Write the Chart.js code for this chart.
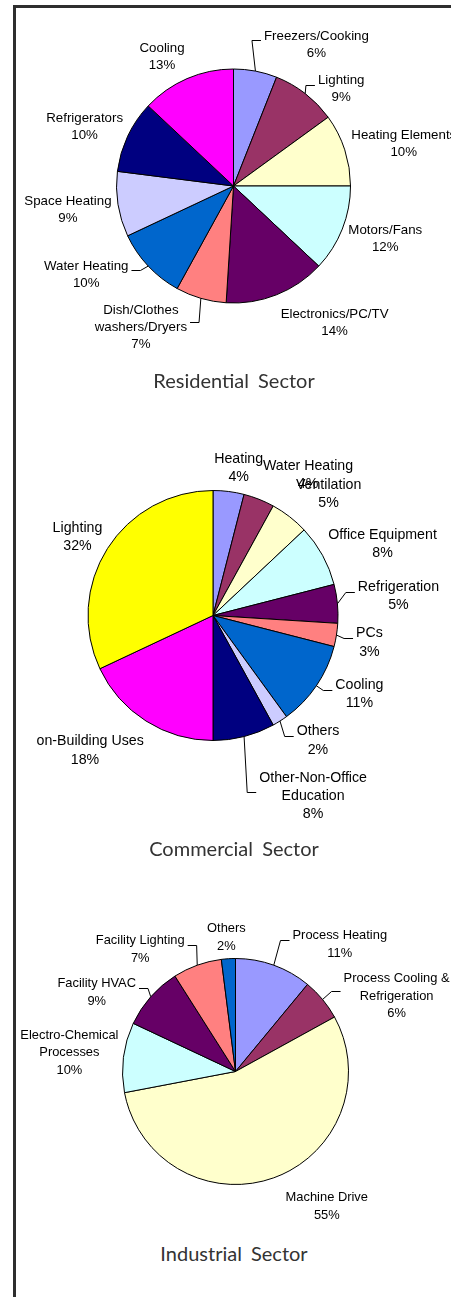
<!DOCTYPE html>
<html>
<head>
<meta charset="utf-8">
<title>Electricity end use by sector</title>
<script src="https://cdn.jsdelivr.net/npm/chart.js@4.4.0/dist/chart.umd.min.js"></script>
<style>
  html, body { margin: 0; padding: 0; background: #fff; }
  body { width: 451px; height: 1297px; position: relative; overflow: hidden; }
  .frame { position: absolute; left: 13px; top: 5px; right: -10px; bottom: -10px; border-left: 3px solid #2e2e2e; border-top: 3px solid #2e2e2e; }
  canvas { position: absolute; }
  .sector { position: absolute; left: 17px; width: 434px; text-align: center; font: 20px Lato, sans-serif; color: #333; word-spacing: 4px; line-height: 24px; }
</style>
</head>
<body>
<div class="frame"></div>
<canvas id="residential" width="434" height="392" style="left:17px;top:8px"></canvas>
<div class="sector" style="top:368px">Residential Sector</div>
<canvas id="commercial" width="415" height="420" style="left:36px;top:420px"></canvas>
<div class="sector" style="top:836px">Commercial Sector</div>
<canvas id="industrial" width="434" height="340" style="left:17px;top:890px"></canvas>
<div class="sector" style="top:1241px">Industrial Sector</div>

<script>
'use strict';

// Residential sector (% of use)
var resCategories = ['Freezers/Cooking', 'Lighting', 'Heating Elements', 'Motors/Fans', 'Electronics/PC/TV',
  'Dish/Clothes\nwashers/Dryers', 'Water Heating', 'Space Heating', 'Refrigerators', 'Cooling'];
var resValues = [6, 9, 10, 12, 14, 7, 10, 9, 10, 13];

// Commercial sector (% of use)
var comCategories = ['Heating', 'Water Heating', 'Ventilation', 'Office Equipment', 'Refrigeration', 'PCs',
  'Cooling', 'Others', 'Other-Non-Office\nEducation', 'Non-Building Uses', 'Lighting'];
var comValues = [4, 4, 5, 8, 5, 3, 11, 2, 8, 18, 32];

// Industrial sector (% of use)
var indCategories = ['Process Heating', 'Process Cooling &\nRefrigeration', 'Machine Drive',
  'Electro-Chemical\nProcesses', 'Facility HVAC', 'Facility Lighting', 'Others'];
var indValues = [11, 6, 55, 10, 9, 7, 2];

// old office palette, slices take colours in order
var palette = ['#9999FF', '#993366', '#FFFFCC', '#CCFFFF', '#660066', '#FF8080',
  '#0066CC', '#CCCCFF', '#000080', '#FF00FF', '#FFFF00'];

// label placement: offset of each label from the middle of its slice's rim
var resLabelShift = [[61, -28], [36, -6], [59, -8], [43, 8], [58, 27], [-60, 27], [-62, 7], [-50, 4], [-43, -11], [-25, -23]];
var resLeaders = [1, 1, 0, 0, 0, 1, 1, 0, 0, 0];
var comLabelShift = [[10, -25], [49, -26], [39, -24], [60, -13], [61, -9], [33, 6], [43, 7], [38, 18], [69, 58], [-61, 28], [-30, -13]];
var comLeaders = [0, 0, 0, 0, 1, 1, 1, 1, 1, 0, 0];
var indLabelShift = [[66, -22], [74, -5], [53, 27], [-54, -6], [-54, -6], [-57, -17], [-2, -23]];
var indLeaders = [1, 1, 0, 0, 1, 1, 0];

// Labels outside the pie, with leader lines where they were pulled away
var sliceLabels = {
  id: 'sliceLabels',
  afterDatasetsDraw: function(chart, args, opts) {
    var ctx = chart.ctx;
    var values = chart.data.datasets[0].data;
    var total = values.reduce(function(a, b) { return a + b; }, 0);
    ctx.save();
    ctx.font = opts.size + 'px "Liberation Sans", Arial, sans-serif';
    ctx.fillStyle = '#000';
    ctx.strokeStyle = '#000';
    ctx.lineWidth = 1;
    ctx.textAlign = 'center';
    ctx.textBaseline = 'middle';
    chart.getDatasetMeta(0).data.forEach(function(arc, i) {
      var p = arc.getProps(['x', 'y', 'startAngle', 'endAngle', 'outerRadius'], true);
      var mid = (p.startAngle + p.endAngle) / 2;
      var px = p.x + Math.cos(mid) * p.outerRadius;
      var py = p.y + Math.sin(mid) * p.outerRadius;
      var lx = px + opts.shift[i][0];
      var ly = py + opts.shift[i][1];
      var lines = chart.data.labels[i].split('\n');
      lines.push(Math.round(values[i] / total * 100) + '%');
      // 'middle' sits the glyphs a little high, nudge them down
      var top = ly + 1.5 - (lines.length - 1) * opts.lineHeight / 2;
      var width = 0;
      lines.forEach(function(t, k) {
        ctx.fillText(t, lx, top + k * opts.lineHeight);
        width = Math.max(width, ctx.measureText(t).width);
      });
      if (opts.leaders[i]) {
        var side = lx > px ? -1 : 1;
        var ex = lx + side * (width / 2 + 3);
        var ey = Math.round(ly - 3) + 0.5;
        ctx.beginPath();
        ctx.moveTo(ex, ey);
        ctx.lineTo(ex + side * 9, ey);
        ctx.lineTo(px, py);
        ctx.stroke();
      }
    });
    ctx.restore();
  }
};

function drawPie(id, categories, values, layout) {
  var canvas = document.getElementById(id);
  var w = canvas.width;
  var h = canvas.height;
  var r = layout.radius;
  return new Chart(canvas, {
    type: 'pie',
    data: {
      labels: categories,
      datasets: [{
        data: values,
        backgroundColor: palette.slice(0, values.length),
        borderColor: '#000',
        borderWidth: 1
      }]
    },
    options: {
      responsive: false,
      devicePixelRatio: 1,
      animation: false,
      events: [],
      radius: r,
      layout: {
        padding: {
          left: layout.cx - r - 1,
          right: w - layout.cx - r - 1,
          top: layout.cy - r - 1,
          bottom: h - layout.cy - r - 1
        }
      },
      plugins: {
        legend: { display: false },
        tooltip: { enabled: false },
        sliceLabels: {
          size: layout.fontSize,
          lineHeight: layout.lineHeight,
          shift: layout.shift,
          leaders: layout.leaders
        }
      }
    },
    plugins: [sliceLabels]
  });
}

drawPie('residential', resCategories, resValues, {
  cx: 216.5, cy: 178, radius: 117, fontSize: 13.3, lineHeight: 17, shift: resLabelShift, leaders: resLeaders
});
drawPie('commercial', comCategories, comValues, {
  cx: 177, cy: 195.5, radius: 125, fontSize: 14.2, lineHeight: 18.3, shift: comLabelShift, leaders: comLeaders
});
drawPie('industrial', indCategories, indValues, {
  cx: 218.5, cy: 181.5, radius: 113, fontSize: 12.9, lineHeight: 17.5, shift: indLabelShift, leaders: indLeaders
});
</script>
</body>
</html>
